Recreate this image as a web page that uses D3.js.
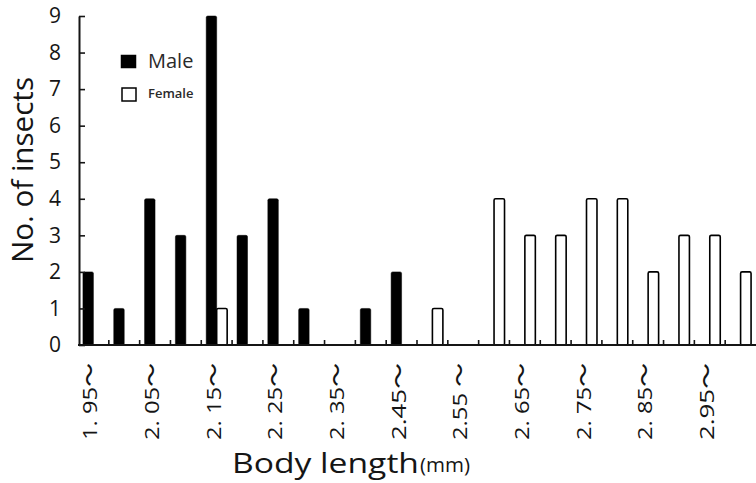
<!DOCTYPE html>
<html>
<head>
<meta charset="utf-8">
<script src="https://cdn.jsdelivr.net/npm/d3@7"></script>
<style>
  html, body { margin: 0; padding: 0; background: #fff; }
  svg { display: block; font-family: "Open Sans", "Noto Sans", sans-serif; }
</style>
</head>
<body>
<svg id="chart" width="756" height="483"></svg>
<script>
// ---- data ----
const bins = ["1.95","2.00","2.05","2.10","2.15","2.20","2.25","2.30","2.35","2.40","2.45",
              "2.50","2.55","2.60","2.65","2.70","2.75","2.80","2.85","2.90","2.95","3.00"];
const maleCounts   = [2,1,4,3,9,3,4,1,0,1,2,0,0,0,0,0,0,0,0,0,0,0];
const femaleCounts = [0,0,0,0,1,0,0,0,0,0,0,1,0,4,3,3,4,4,2,3,3,2];
const tickBins   = ["1.95","2.05","2.15","2.25","2.35","2.45","2.55","2.65","2.75","2.85","2.95"];
const tickLabels = ["1. 95～","2. 05～","2. 15～","2. 25～","2. 35～","2.45～","2.55 ～","2. 65～","2. 75～","2. 85～","2.95～"];
const yTicks = [0,1,2,3,4,5,6,7,8,9];
const seriesNames = ["Male","Female"];

// ---- layout ----
const svg = d3.select("#chart");
const mLeft = 78, mRight = 756, mTop = 16, mBottom = 345;
const ink = "#151515";

const x = d3.scaleBand().domain(bins).range([mLeft, mRight]).padding(0);
const sub = d3.scaleBand().domain(seriesNames)
  .range([x.bandwidth() * 0.16, x.bandwidth() * 0.84]).padding(0);
const y = d3.scaleLinear().domain([0, 9]).range([mBottom, mTop]);

const rows = bins.map((b, i) => ({ bin: b, Male: maleCounts[i], Female: femaleCounts[i] }));

// bars
const barsG = svg.append("g");
seriesNames.forEach(s => {
  barsG.selectAll("rect." + s)
    .data(rows.filter(r => r[s] > 0))
    .join("rect")
    .attr("class", s)
    .attr("x", d => x(d.bin) + sub(s))
    .attr("y", d => y(d[s]))
    .attr("width", sub.bandwidth())
    .attr("height", d => y(0) - y(d[s]))
    .attr("rx", 1.5)
    .attr("fill", s === "Male" ? "#000" : "#fff")
    .attr("stroke", "#000")
    .attr("stroke-width", s === "Male" ? 0.5 : 1.6);
});

// y axis
const yAxis = svg.append("g")
  .attr("transform", `translate(${mLeft + 1},0)`)
  .call(d3.axisLeft(y).tickValues(yTicks).tickSizeInner(-6).tickSizeOuter(0).tickPadding(18));
yAxis.select(".domain").attr("stroke", ink).attr("stroke-width", 2);
yAxis.selectAll(".tick line").attr("stroke", ink).attr("stroke-width", 1.6);
yAxis.selectAll(".tick text").attr("font-size", 21).attr("fill", ink)
  .attr("font-weight", 500)
  .attr("font-family", "'Open Sans', sans-serif");

// x axis: labels
const labelMap = new Map(tickBins.map((b, i) => [b, tickLabels[i]]));
const xAxis = svg.append("g")
  .attr("transform", `translate(0,${mBottom})`)
  .call(d3.axisBottom(x).tickValues(tickBins).tickSize(0).tickFormat(d => labelMap.get(d)));
xAxis.select(".domain").remove();
xAxis.selectAll(".tick text")
  .attr("transform", "rotate(-90)")
  .attr("text-anchor", "end")
  .attr("x", -18)
  .attr("y", -3)
  .attr("dy", "0.35em")
  .attr("font-size", 20)
  .attr("font-weight", 500)
  .attr("fill", ink)
  .attr("font-family", "'Open Sans', 'Noto Sans CJK JP', sans-serif")
  .attr("textLength", 77)
  .attr("lengthAdjust", "spacingAndGlyphs");

// x axis baseline & bin boundary ticks
svg.append("line")
  .attr("x1", mLeft).attr("x2", mRight)
  .attr("y1", mBottom).attr("y2", mBottom)
  .attr("stroke", ink).attr("stroke-width", 2);
svg.append("g").selectAll("line")
  .data(bins.slice(1))
  .join("line")
  .attr("x1", d => x(d)).attr("x2", d => x(d))
  .attr("y1", mBottom).attr("y2", mBottom - 5)
  .attr("stroke", ink).attr("stroke-width", 1.6);

// axis titles
svg.append("text")
  .attr("transform", "translate(33,170) rotate(-90)")
  .attr("text-anchor", "middle")
  .attr("font-size", 29)
  .attr("fill", ink)
  .attr("textLength", 186)
  .attr("lengthAdjust", "spacingAndGlyphs")
  .text("No. of insects");

svg.append("text")
  .attr("x", 232).attr("y", 473)
  .attr("font-size", 28)
  .attr("fill", ink)
  .attr("textLength", 187)
  .attr("lengthAdjust", "spacingAndGlyphs")
  .text("Body length");
svg.append("text")
  .attr("x", 420).attr("y", 472)
  .attr("font-size", 20)
  .attr("fill", ink)
  .attr("textLength", 50)
  .attr("lengthAdjust", "spacingAndGlyphs")
  .text("(mm)");

// legend
const legend = svg.append("g");
const legendItems = [
  { name: "Male", fill: "#000", sw: 0.5, ty: 68, fs: 20, fw: 400, bx: 121, by: 55, bw: 15, bh: 13 },
  { name: "Female", fill: "#fff", sw: 1.5, ty: 98, fs: 13, fw: 600, bx: 122, by: 88, bw: 14, bh: 13 }
];
legendItems.forEach(it => {
  legend.append("rect")
    .attr("x", it.bx).attr("y", it.by)
    .attr("width", it.bw).attr("height", it.bh)
    .attr("fill", it.fill).attr("stroke", "#000").attr("stroke-width", it.sw);
  legend.append("text")
    .attr("x", 148).attr("y", it.ty)
    .attr("font-size", it.fs)
    .attr("font-weight", it.fw)
    .attr("fill", "#2a2a2a")
    .text(it.name);
});
</script>
</body>
</html>
